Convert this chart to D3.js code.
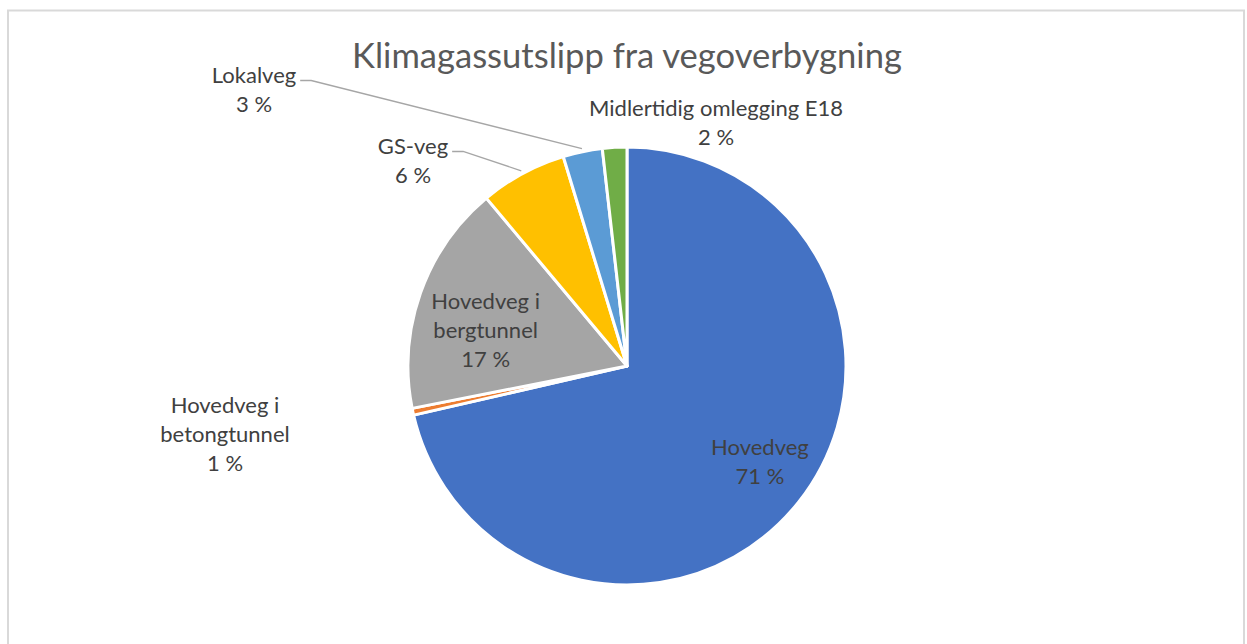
<!DOCTYPE html>
<html><head><meta charset="utf-8">
<script src="https://cdn.jsdelivr.net/npm/d3@7"></script>
<style>body{margin:0;background:#fff;}svg{display:block;}</style>
</head><body>
<script>
const title = "Klimagassutslipp fra vegoverbygning";
const categories = ["Hovedveg","Hovedveg i betongtunnel","Hovedveg i bergtunnel","GS-veg","Lokalveg","Midlertidig omlegging E18"];
const values = [71.4, 0.5, 17.0, 6.4, 2.9, 1.8];
const labelLines = [["Hovedveg"],["Hovedveg i","betongtunnel"],["Hovedveg i","bergtunnel"],["GS-veg"],["Lokalveg"],["Midlertidig omlegging E18"]];
const colors = ["#4472C4","#ED7D31","#A5A5A5","#FFC000","#5B9BD5","#70AD47"];

const W=1247,H=644, cx=627, cy=366, R=219;
const svg=d3.select("body").append("svg").attr("width",W).attr("height",H);
svg.append("rect").attr("x",8).attr("y",10.5).attr("width",1236).attr("height",700)
  .attr("fill","#fff").attr("stroke","#d9d9d9").attr("stroke-width",2);
const font="Lato, sans-serif";

function fitSize(txt, target, base){
  const t=svg.append("text").attr("font-family",font).attr("font-size",base).text(txt);
  const w=t.node().getComputedTextLength(); t.remove(); return base*target/w;
}
const titleSize=fitSize(title,550,30);
const labelSize=fitSize("Midlertidig omlegging E18",254,18);

svg.append("text").attr("x",cx).attr("y",54).attr("text-anchor","middle").attr("dominant-baseline","central")
  .attr("font-family",font).attr("font-size",titleSize).attr("fill","#595959").text(title);

const pie=d3.pie().sort(null).value(d=>d)(values);
const arc=d3.arc().innerRadius(0).outerRadius(R);
const g=svg.append("g").attr("transform",`translate(${cx},${cy})`);
g.selectAll("path").data(pie).join("path").attr("d",arc)
  .attr("fill",(d,i)=>colors[i]).attr("stroke","#fff").attr("stroke-width",3).attr("stroke-linejoin","round");

const total=d3.sum(values);
const fmt=v=>Math.round(v/total*100+1e-6)+" %";
const layout=[
  {type:"in", rf:0.70, dx:13, dy:0},
  {type:"out", x:-402, y:67},
  {type:"in", rf:0.67, dx:-3, dy:12},
  {type:"out", x:-214, y:-206, leader:true},
  {type:"out", x:-373, y:-277, leader:true},
  {type:"out", x:89, y:-244}
];
const lh=29;
pie.forEach((d,i)=>{
  const L=layout[i];
  const mid=(d.startAngle+d.endAngle)/2;
  let lx,ly;
  if(L.type==="in"){ lx=Math.sin(mid)*R*L.rf+L.dx; ly=-Math.cos(mid)*R*L.rf+L.dy; }
  else { lx=L.x; ly=L.y; }
  const lines=[...labelLines[i], fmt(values[i])];
  const t=g.append("text").attr("text-anchor","middle").attr("font-family",font).attr("font-size",labelSize)
    .attr("fill","#404040");
  lines.forEach((s,k)=>t.append("tspan").attr("x",lx).attr("y",ly+(k-(lines.length-1)/2)*lh).attr("dominant-baseline","central").text(s));
  if(L.leader){
    const firstY=ly-(lines.length-1)/2*lh+6;
    const p0=[Math.sin(mid)*(R+3), -Math.cos(mid)*(R+3)];
    const tw=t.select("tspan").node().getComputedTextLength();
    const ex=lx+tw/2+4;
    g.append("polyline").attr("points",[[ex,firstY],[ex+11,firstY],p0].map(p=>p.join(",")).join(" "))
      .attr("fill","none").attr("stroke","#a6a6a6").attr("stroke-width",1.3);
  }
});
</script>
</body></html>
